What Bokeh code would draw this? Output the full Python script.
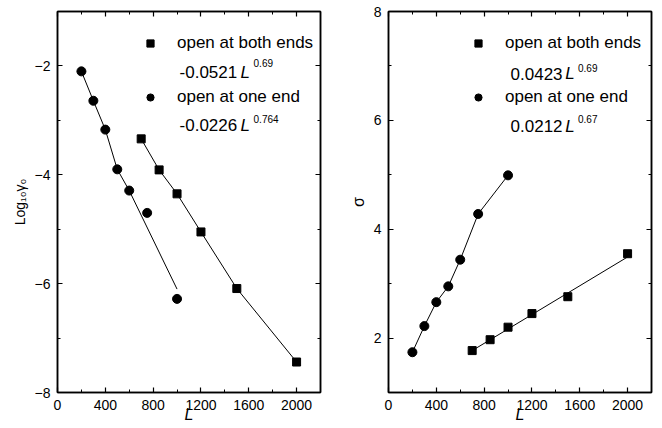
from bokeh.plotting import figure
from bokeh.layouts import row
from bokeh.models import Range1d, LinearAxis, Legend, LegendItem, Label, FixedTicker
from bokeh.embed import file_html
from bokeh.resources import INLINE

# ---- data ----
L_one = [200, 300, 400, 500, 600, 750, 1000]
L_both = [700, 850, 1000, 1200, 1500, 2000]
log_gamma_one = [-2.10, -2.64, -3.17, -3.90, -4.29, -4.70, -6.28]
log_gamma_both = [-3.34, -3.91, -4.35, -5.05, -6.09, -7.44]
sigma_one = [1.74, 2.22, 2.66, 2.95, 3.44, 4.28, 4.99]
sigma_both = [1.77, 1.97, 2.20, 2.45, 2.76, 3.55]

# fitted curves
fitL_one_left = [200, 300, 400, 500, 600, 1000]
fit_one_left = [-2.10, -2.64, -3.17, -3.90, -4.29, -6.10]
fitL_both_left = [700, 850, 1000, 1200, 1500, 2000]
fit_both_left = [-3.34, -3.91, -4.35, -5.05, -6.09, -7.44]
fitL_one_right = [200, 300, 400, 500, 600, 750, 1000]
fit_one_right = [1.74, 2.22, 2.66, 2.95, 3.44, 4.28, 4.99]
fitL_both_right = [700, 2000]
fit_both_right = [1.77, 3.49]

x_ticks = [0, 400, 800, 1200, 1600, 2000]
x_minor = [200, 600, 1000, 1400, 1800]
left_ticks = [-8, -6, -4, -2]
left_minor = [-7, -5, -3, -1]
right_ticks = [2, 4, 6, 8]
right_minor = [1, 3, 5, 7]

legend_labels = ["open at both ends", "open at one end"]
left_coefs = ["-0.0521", "-0.0226"]
left_exps = ["0.69", "0.764"]
right_coefs = ["0.0423", "0.0212"]
right_exps = ["0.69", "0.67"]

FONT = "Liberation Sans"


def style_axis(ax, show_labels=True):
    ax.major_tick_in = 5
    ax.major_tick_out = 0
    ax.minor_tick_in = 3
    ax.minor_tick_out = 0
    ax.axis_line_color = "black"
    ax.axis_line_width = 1.5
    ax.major_tick_line_color = "black"
    ax.major_tick_line_width = 1.2
    ax.minor_tick_line_color = "black"
    ax.minor_tick_line_width = 1
    ax.major_label_text_font = FONT
    ax.major_label_text_color = "black"
    ax.axis_label_text_font = FONT
    ax.axis_label_text_color = "black"
    ax.major_label_text_font_size = "14px"
    if show_labels:
        ax.major_label_standoff = 7
    else:
        ax.major_label_standoff = 0


def make_fig(y0, y1, yt, ymin, ylabel):
    p = figure(width=331, height=428, x_range=Range1d(0, 2200), y_range=Range1d(y0, y1),
               output_backend="svg", toolbar_location=None,
               min_border_left=57, min_border_right=11, min_border_top=11, min_border_bottom=36,
               x_axis_label="L", y_axis_label=ylabel)
    p.xgrid.visible = False
    p.ygrid.visible = False
    p.outline_line_color = "black"
    p.outline_line_width = 1.5
    p.xaxis.ticker = FixedTicker(ticks=x_ticks, minor_ticks=x_minor)
    p.yaxis.ticker = FixedTicker(ticks=yt, minor_ticks=ymin)
    for ax in p.xaxis + p.yaxis:
        style_axis(ax)
    p.xaxis.axis_label_text_font_style = "italic"
    p.xaxis.axis_label_text_font_size = "16px"
    p.xaxis.axis_label_standoff = -7
    p.yaxis.axis_label_text_font_style = "normal"
    p.yaxis.axis_label_text_font_size = "14px"
    p.yaxis.axis_label_standoff = 4
    top = LinearAxis(ticker=FixedTicker(ticks=x_ticks, minor_ticks=x_minor),
                     major_label_overrides={t: "" for t in x_ticks})
    right = LinearAxis(ticker=FixedTicker(ticks=yt, minor_ticks=ymin),
                       major_label_overrides={t: "" for t in yt})
    style_axis(top, False)
    style_axis(right, False)
    p.add_layout(top, "above")
    p.add_layout(right, "right")
    return p


def add_legend(p, r_sq, r_ci, xloc):
    leg = Legend(items=[LegendItem(label=legend_labels[0], renderers=[r_sq]),
                        LegendItem(label=legend_labels[1], renderers=[r_ci])],
                 location=(xloc, 285), glyph_width=18, glyph_height=18, label_standoff=18,
                 spacing=34, padding=0, margin=0, border_line_color=None,
                 background_fill_alpha=0, label_text_font=FONT, label_text_font_size="17px",
                 label_text_color="black")
    p.add_layout(leg)


def add_formula(p, x_c, x_L, x_e, y_main, y_exp, coef, exp):
    p.add_layout(Label(x=x_c, y=y_main, text=coef, text_baseline="middle", text_font=FONT,
                       text_font_size="17px", text_color="black"))
    p.add_layout(Label(x=x_L, y=y_main, text="L", text_baseline="middle", text_font=FONT,
                       text_font_style="italic", text_font_size="17px", text_color="black"))
    p.add_layout(Label(x=x_e, y=y_exp, text=exp, text_baseline="middle", text_font=FONT,
                       text_font_size="10px", text_color="black"))


# ---- left panel ----
p1 = make_fig(-8, -1, left_ticks, left_minor, "Log\u2081\u2080\u03b3\u2080")
p1.line(fitL_one_left, fit_one_left, line_color="black", line_width=1)
p1.line(fitL_both_left, fit_both_left, line_color="black", line_width=1)
sq1 = p1.scatter(L_both, log_gamma_both, marker="square", size=8, color="black")
ci1 = p1.scatter(L_one, log_gamma_one, marker="circle", size=9, color="black")
add_legend(p1, sq1, ci1, 84)
add_formula(p1, 1021, 1531, 1640, -2.12, -1.955, left_coefs[0], left_exps[0])
add_formula(p1, 1021, 1531, 1640, -3.09, -2.97, left_coefs[1], left_exps[1])

# ---- right panel ----
p2 = make_fig(1, 8, right_ticks, right_minor, "\u03c3")
p2.yaxis[0].axis_label_text_font_size = "16px"
p2.line(fitL_one_right, fit_one_right, line_color="black", line_width=1)
p2.line(fitL_both_right, fit_both_right, line_color="black", line_width=1)
sq2 = p2.scatter(L_both, sigma_both, marker="square", size=8, color="black")
ci2 = p2.scatter(L_one, sigma_one, marker="circle", size=9, color="black")
add_legend(p2, sq2, ci2, 81)
add_formula(p2, 1021, 1478, 1585, 6.86, 6.97, right_coefs[0], right_exps[0])
add_formula(p2, 1021, 1478, 1585, 5.89, 6.03, right_coefs[1], right_exps[1])

layout = row(p1, p2)
open("out.html", "w").write(file_html(layout, INLINE))
